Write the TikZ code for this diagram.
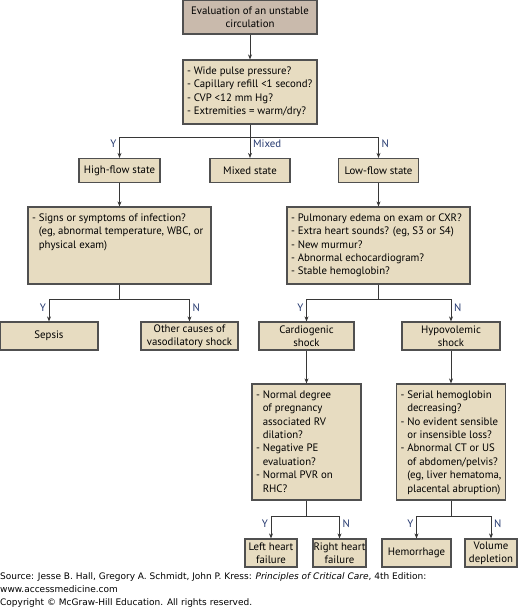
\documentclass[tikz,border=0pt]{standalone}
\usepackage{fontspec}
\setmainfont{PT Sans}
\newfontfamily\srcfont{DejaVu Sans}
\usetikzlibrary{arrows.meta}

\definecolor{boxfill}{RGB}{231,220,193}
\definecolor{headfill}{RGB}{201,186,172}
\definecolor{boxdraw}{RGB}{80,80,80}
\definecolor{linecol}{RGB}{55,55,55}
\definecolor{lblcol}{RGB}{35,55,110}

\newcommand{\boxfont}{\fontsize{10.8}{13.4}\selectfont}
\newcommand{\ind}{\hphantom{- }}
\newcommand{\qtxt}[3]{\parbox[c][#2][t]{#1}{\begin{tabular}{@{}l@{}}#3\end{tabular}}}

\tikzset{
  box/.style={draw=boxdraw, fill=boxfill, line width=1.2pt, inner sep=0pt, align=center, font=\boxfont},
  head/.style={box, fill=headfill},
  qbox/.style={box, inner xsep=4pt, inner ysep=5pt},
  conn/.style={draw=linecol, line width=0.9pt},
  arr/.style={conn, -{Stealth[length=5pt, width=4pt]}},
  lbl/.style={font=\boxfont, text=lblcol, inner sep=1pt}
}

\begin{document}
\begin{tikzpicture}[x=1pt, y=-1pt]
    \useasboundingbox (0,0) rectangle (520,614);

    % start and first question
    \node[head, minimum width=134pt, minimum height=34pt] (top) at (250,17) {Evaluation of an unstable\\circulation};
    \node[qbox] (q1) at (250,92) {\qtxt{126pt}{54pt}{- Wide pulse pressure?\\- Capillary refill <1 second?\\- CVP <12 mm Hg?\\- Extremities = warm/dry?}};

    % flow states
    \node[box, minimum width=81pt, minimum height=24pt] (high) at (119.5,170.5) {High-flow state};
    \node[box, minimum width=80pt, minimum height=24pt] (mixed) at (250,170.5) {Mixed state};
    \node[box, minimum width=80pt, minimum height=24pt] (low) at (378.5,170.5) {Low-flow state};

    % second questions
    \node[qbox] (q2) at (119.5,245.5) {\qtxt{175pt}{67pt}{- Signs or symptoms of infection?\\\ind(eg, abnormal temperature, WBC, or\\\ind physical exam)}};
    \node[qbox] (q3) at (378.5,245.5) {\qtxt{175pt}{67pt}{- Pulmonary edema on exam or CXR?\\- Extra heart sounds? (eg, S3 or S4)\\- New murmur?\\- Abnormal echocardiogram?\\- Stable hemoglobin?}};

    % shock types
    \node[box, minimum width=98pt, minimum height=28pt] (sepsis) at (49,336) {Sepsis};
    \node[box, minimum width=97pt, minimum height=28pt] (other) at (189.5,336) {Other causes of\\vasodilatory shock};
    \node[box, minimum width=95pt, minimum height=28pt] (cardio) at (306.5,336) {Cardiogenic\\shock};
    \node[box, minimum width=98pt, minimum height=28pt] (hypo) at (451,336) {Hypovolemic\\shock};

    % third questions
    \node[qbox] (q4) at (306.5,442) {\qtxt{101pt}{106pt}{- Normal degree\\\ind of pregnancy\\\ind associated RV\\\ind dilation?\\- Negative PE\\\ind evaluation?\\- Normal PVR on\\\ind RHC?}};
    \node[qbox] (q5) at (451,442) {\qtxt{101pt}{106pt}{- Serial hemoglobin\\\ind decreasing?\\- No evident sensible\\\ind or insensible loss?\\- Abnormal CT or US\\\ind of abdomen/pelvis?\\\ind(eg, liver hematoma,\\\ind placental abruption)}};

    % end points
    \node[box, minimum width=52pt, minimum height=28pt] (lhf) at (271,553) {Left heart\\failure};
    \node[box, minimum width=53pt, minimum height=28pt] (rhf) at (339.5,553) {Right heart\\failure};
    \node[box, minimum width=69pt, minimum height=28pt] (hem) at (416.5,553) {Hemorrhage};
    \node[box, minimum width=52pt, minimum height=28pt] (vol) at (491,553) {Volume\\depletion};

    % connectors
    \draw[arr] (top) -- (q1);
    \draw[arr] (q1.south) -- ++(0,13) -| (high.north);
    \draw[arr] (q1.south) -- ++(0,13) -| (low.north);
    \draw[arr] (q1) -- (mixed);
    \draw[arr] (high) -- (q2);
    \draw[arr] (low) -- (q3);
    \draw[arr] (q2.south) -- ++(0,15) -| (sepsis.north);
    \draw[arr] (q2.south) -- ++(0,15) -| (other.north);
    \draw[arr] (q3.south) -- ++(0,15) -| (cardio.north);
    \draw[arr] (q3.south) -- ++(0,15) -| (hypo.north);
    \draw[arr] (cardio) -- (q4);
    \draw[arr] (hypo) -- (q5);
    \draw[arr] (q4.south) -- ++(0,16) -| (lhf.north);
    \draw[arr] (q4.south) -- ++(0,16) -| (rhf.north);
    \draw[arr] (q5.south) -- ++(0,16) -| (hem.north);
    \draw[arr] (q5.south) -- ++(0,16) -| (vol.north);

    % branch labels
    \node[lbl, anchor=east] (yhigh) at ([shift={(-2pt,14pt)}]high.north) {Y};
    \node[lbl, anchor=west] (lmixed) at ([shift={(2pt,14pt)}]mixed.north) {Mixed};
    \node[lbl, anchor=west] (nlow) at ([shift={(2pt,14pt)}]low.north) {N};
    \node[lbl, anchor=east] (ysepsis) at ([shift={(-2pt,14pt)}]sepsis.north) {Y};
    \node[lbl, anchor=west] (nother) at ([shift={(2pt,14pt)}]other.north) {N};
    \node[lbl, anchor=east] (ycardio) at ([shift={(-2pt,14pt)}]cardio.north) {Y};
    \node[lbl, anchor=west] (nhypo) at ([shift={(2pt,14pt)}]hypo.north) {N};
    \node[lbl, anchor=east] (ylhf) at ([shift={(-2pt,15pt)}]lhf.north) {Y};
    \node[lbl, anchor=west] (nrhf) at ([shift={(2pt,15pt)}]rhf.north) {N};
    \node[lbl, anchor=east] (yhem) at ([shift={(-2pt,15pt)}]hem.north) {Y};
    \node[lbl, anchor=west] (nvol) at ([shift={(2pt,15pt)}]vol.north) {N};

    % source
    \node[anchor=north west, inner sep=0pt, align=left, font={\srcfont\fontsize{9}{13}\selectfont}] (src) at (0,572) {Source: Jesse B. Hall, Gregory A. Schmidt, John P. Kress: \textit{Principles of Critical Care}, 4th Edition:\\www.accessmedicine.com\\Copyright © McGraw-Hill Education. All rights reserved.};
\end{tikzpicture}
\end{document}
